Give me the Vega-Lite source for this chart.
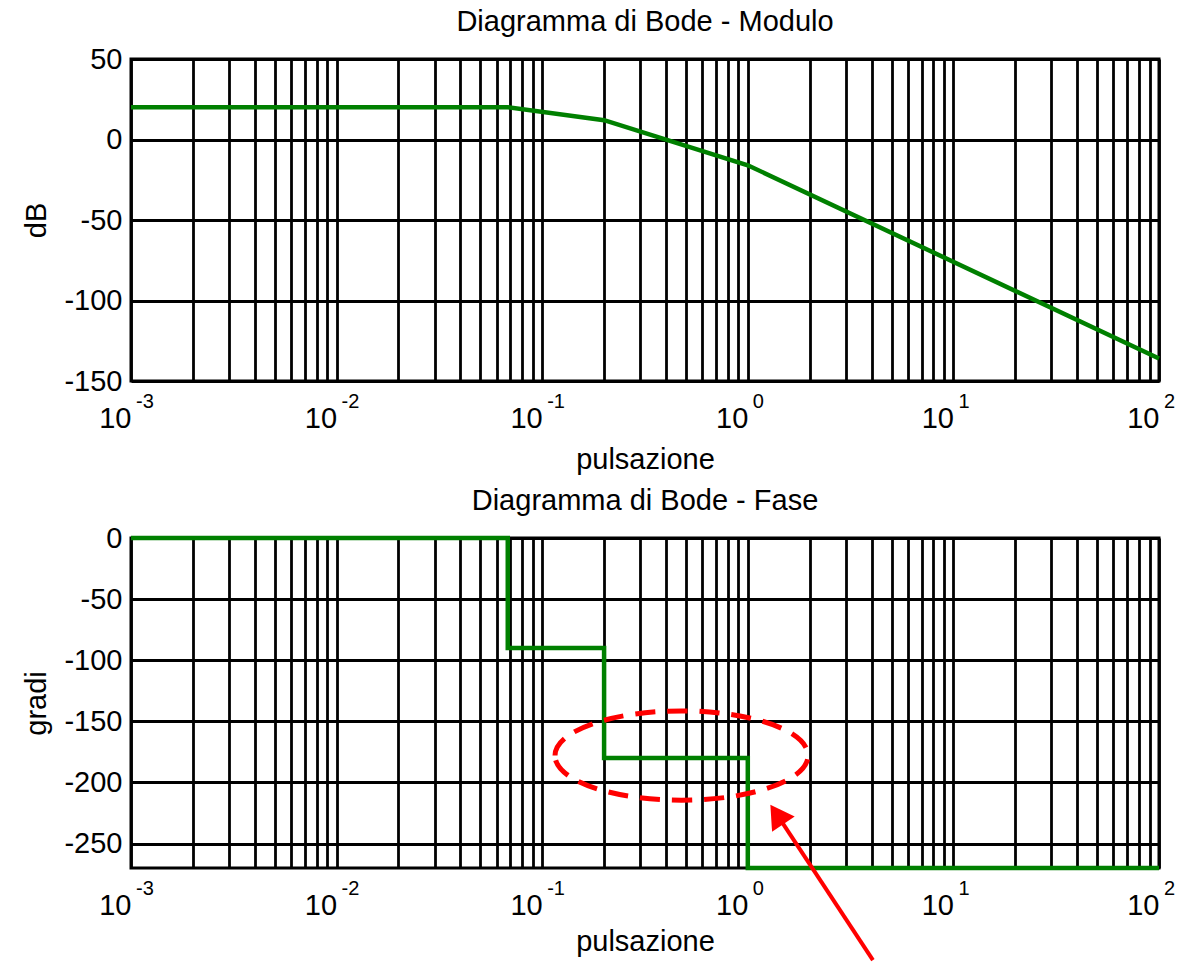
{
  "$schema": "https://vega.github.io/schema/vega-lite/v6.json",
  "background": "white",
  "padding": {"left": 20, "top": 6, "right": 0, "bottom": 0},
  "spacing": 157,
  "bounds": "flush",
  "config": {
    "font": "Liberation Sans",
    "view": {"stroke": "black", "strokeWidth": 3},
    "axis": {
      "grid": true, "gridColor": "black", "gridWidth": 2.8, "gridOpacity": 1,
      "domain": false, "ticks": false, "tickSize": 0,
      "labelFont": "Liberation Sans", "labelFontSize": 29, "labelColor": "black",
      "titleFont": "Liberation Sans", "titleFontSize": 29, "titleFontWeight": "normal", "titleColor": "black"
    },
    "title": {"font": "Liberation Sans", "fontSize": 29, "fontWeight": "normal", "color": "black"}
  },
  "vconcat": [
    {
      "title": {"text": "Diagramma di Bode - Modulo", "baseline": "alphabetic", "offset": -15, "anchor": "middle", "frame": "group"},
      "width": 1028,
      "height": 322,
      "layer": [
        {
          "data": {"values": [
            {"w": 0.001, "db": 20},
            {"w": 0.068, "db": 20},
            {"w": 0.2, "db": 12},
            {"w": 1, "db": -16},
            {"w": 100, "db": -136}
          ]},
          "mark": {"type": "line", "color": "#008000", "strokeWidth": 4.5, "clip": false},
          "encoding": {
            "x": {
              "field": "w", "type": "quantitative",
              "scale": {"type": "log", "domain": [0.001, 100], "nice": false},
              "axis": {
                "values": [0.001,0.002,0.003,0.004,0.005,0.006,0.007,0.008,0.009,0.01,0.02,0.03,0.04,0.05,0.06,0.07,0.08,0.09,0.1,0.2,0.3,0.4,0.5,0.6,0.7,0.8,0.9,1,2,3,4,5,6,7,8,9,10,20,30,40,50,60,70,80,90,100],
                "labelExpr": "indexof([0.001,0.01,0.1,1,10,100], datum.value) >= 0 ? '10' : ''",
                "labelAlign": "right", "labelDx": 5, "labelBaseline": "alphabetic", "labelPadding": 46,
                "labelFlush": false, "labelOverlap": false,
                "title": "pulsazione", "titleY": 87, "titleBaseline": "alphabetic"
              }
            },
            "y": {
              "field": "db", "type": "quantitative",
              "scale": {"domain": [-150, 50], "nice": false},
              "axis": {
                "values": [-150, -100, -50, 0, 50],
                "labelExpr": "datum.value < 0 ? '-' + abs(datum.value) : '' + datum.value",
                "labelPadding": 9, "labelBaseline": "middle",
                "title": "dB", "titleX": -95, "titleBaseline": "middle"
              }
            }
          }
        },
        {
          "data": {"values": [
            {"w": 0.001, "e": "-3"}, {"w": 0.01, "e": "-2"}, {"w": 0.1, "e": "-1"},
            {"w": 1, "e": "0"}, {"w": 10, "e": "1"}, {"w": 100, "e": "2"}
          ]},
          "mark": {"type": "text", "align": "left", "baseline": "alphabetic", "dx": 5, "dy": 27, "fontSize": 20, "font": "Liberation Sans", "color": "black"},
          "encoding": {
            "x": {"field": "w", "type": "quantitative"},
            "y": {"datum": -150},
            "text": {"field": "e"}
          }
        }
      ]
    },
    {
      "title": {"text": "Diagramma di Bode - Fase", "baseline": "alphabetic", "offset": -15, "anchor": "middle", "frame": "group"},
      "width": 1028,
      "height": 330,
      "layer": [
        {
          "data": {"values": [
            {"w": 0.001, "ph": 0},
            {"w": 0.068, "ph": -90},
            {"w": 0.2, "ph": -180},
            {"w": 1, "ph": -270},
            {"w": 100, "ph": -270}
          ]},
          "mark": {"type": "line", "color": "#008000", "strokeWidth": 4.5, "interpolate": "step-after", "clip": false},
          "encoding": {
            "x": {
              "field": "w", "type": "quantitative",
              "scale": {"type": "log", "domain": [0.001, 100], "nice": false},
              "axis": {
                "values": [0.001,0.002,0.003,0.004,0.005,0.006,0.007,0.008,0.009,0.01,0.02,0.03,0.04,0.05,0.06,0.07,0.08,0.09,0.1,0.2,0.3,0.4,0.5,0.6,0.7,0.8,0.9,1,2,3,4,5,6,7,8,9,10,20,30,40,50,60,70,80,90,100],
                "labelExpr": "indexof([0.001,0.01,0.1,1,10,100], datum.value) >= 0 ? '10' : ''",
                "labelAlign": "right", "labelDx": 5, "labelBaseline": "alphabetic", "labelPadding": 46,
                "labelFlush": false, "labelOverlap": false,
                "title": "pulsazione", "titleY": 82, "titleBaseline": "alphabetic"
              }
            },
            "y": {
              "field": "ph", "type": "quantitative",
              "scale": {"domain": [-270, 0], "nice": false},
              "axis": {
                "values": [-250, -200, -150, -100, -50, 0],
                "labelExpr": "datum.value < 0 ? '-' + abs(datum.value) : '' + datum.value",
                "labelPadding": 9, "labelBaseline": "middle",
                "title": "gradi", "titleX": -95, "titleBaseline": "middle"
              }
            }
          }
        },
        {
          "data": {"values": [
            {"w": 0.001, "e": "-3"}, {"w": 0.01, "e": "-2"}, {"w": 0.1, "e": "-1"},
            {"w": 1, "e": "0"}, {"w": 10, "e": "1"}, {"w": 100, "e": "2"}
          ]},
          "mark": {"type": "text", "align": "left", "baseline": "alphabetic", "dx": 5, "dy": 27, "fontSize": 20, "font": "Liberation Sans", "color": "black"},
          "encoding": {
            "x": {"field": "w", "type": "quantitative"},
            "y": {"datum": -270},
            "text": {"field": "e"}
          }
        },
        {
          "data": {"values": [{"w": 0.476, "ph": -178}]},
          "mark": {
            "type": "point",
            "shape": "M-1,0C-1,-0.195,-0.552,-0.353,0,-0.353C0.552,-0.353,1,-0.195,1,0C1,0.195,0.552,0.353,0,0.353C-0.552,0.353,-1,0.195,-1,0Z",
            "size": 64009, "filled": false, "stroke": "#ff0000", "strokeWidth": 5, "strokeDash": [20, 12], "opacity": 1, "clip": false
          },
          "encoding": {
            "x": {"field": "w", "type": "quantitative"},
            "y": {"field": "ph", "type": "quantitative"}
          }
        },
        {
          "data": {"values": [{"w": 4.06, "ph": -345.3, "w2": 1.385, "ph2": -226.2}]},
          "mark": {"type": "rule", "color": "#ff0000", "strokeWidth": 4, "clip": false},
          "encoding": {
            "x": {"field": "w", "type": "quantitative"},
            "y": {"field": "ph", "type": "quantitative"},
            "x2": {"field": "w2"},
            "y2": {"field": "ph2"}
          }
        },
        {
          "data": {"values": [{"w": 1.385, "ph": -226.2}]},
          "mark": {
            "type": "point",
            "shape": "M0,-1L1.17,1L-1.17,1Z",
            "size": 543, "filled": true, "fill": "#ff0000", "strokeWidth": 0, "opacity": 1, "angle": 326, "clip": false
          },
          "encoding": {
            "x": {"field": "w", "type": "quantitative"},
            "y": {"field": "ph", "type": "quantitative"}
          }
        }
      ]
    }
  ]
}
